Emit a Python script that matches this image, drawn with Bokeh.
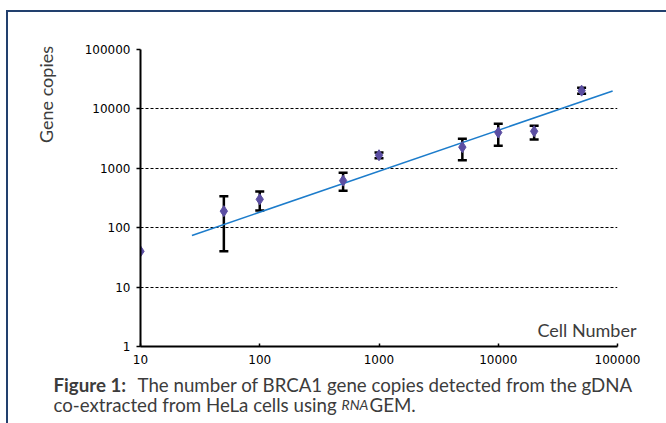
import math
from bokeh.plotting import figure
from bokeh.layouts import column
from bokeh.models import (ColumnDataSource, Whisker, TeeHead, FixedTicker,
                          PrintfTickFormatter, Label)
from bokeh.embed import file_html
from bokeh.resources import INLINE

# ---- data ----
cells = [10, 50, 100, 500, 1000, 5000, 10000, 20000, 50000]
copies = [40, 190, 300, 620, 1660, 2270, 4000, 4200, 20300]
upper = [None, 340, 405, 840, 1850, 3150, 5600, 5200, 22700]
lower = [None, 40, 195, 420, 1480, 1370, 2400, 3050, 18000]
trend_x = [27, 91000]
trend_y = [74, 20000]
x_ticks = [10, 100, 1000, 10000, 100000]
y_ticks = [1, 10, 100, 1000, 10000, 100000]

W = 658
H_MAIN = 360
H_CAP = 51
txt = "#3c3c3c"

p = figure(width=W, height=H_MAIN, x_axis_type="log", y_axis_type="log",
           x_range=(10, 100000), y_range=(1, 100000),
           output_backend="svg", toolbar_location=None,
           min_border_left=132, min_border_right=49,
           min_border_top=37, min_border_bottom=26)
p.outline_line_color = None
p.background_fill_color = "white"
p.border_fill_color = "white"

p.xgrid.visible = False
p.ygrid.grid_line_color = "black"
p.ygrid.grid_line_dash = "3 2"
p.ygrid.grid_line_width = 1
p.ygrid.ticker = FixedTicker(ticks=y_ticks[1:])

for ax in (p.xaxis[0], p.yaxis[0]):
    ax.axis_line_color = "black"
    ax.axis_line_width = 2
    ax.major_tick_line_color = "black"
    ax.major_tick_line_width = 1.5
    ax.minor_tick_line_color = None
    ax.major_label_text_font = "DejaVu Sans"
    ax.major_label_text_font_size = "12px"
    ax.major_label_text_color = "black"
    ax.formatter = PrintfTickFormatter(format="%d")
p.xaxis[0].ticker = FixedTicker(ticks=x_ticks)
p.yaxis[0].ticker = FixedTicker(ticks=y_ticks)
p.xaxis[0].major_tick_in = 3
p.xaxis[0].major_tick_out = 0
p.xaxis[0].major_label_standoff = 8
p.yaxis[0].major_tick_in = 0
p.yaxis[0].major_tick_out = 4
p.yaxis[0].major_label_standoff = 6

idx = [i for i in range(len(cells)) if upper[i] is not None]
err_src = ColumnDataSource(dict(x=[cells[i] for i in idx],
                                up=[upper[i] for i in idx],
                                lo=[lower[i] for i in idx]))
wh = Whisker(source=err_src, base="x", upper="up", lower="lo",
             line_color="black", line_width=2.5,
             upper_head=TeeHead(size=9, line_color="black", line_width=2.5),
             lower_head=TeeHead(size=9, line_color="black", line_width=2.5))
p.add_layout(wh)

p.line(trend_x, trend_y, line_color="#1C7CCB", line_width=1.6)
p.scatter(cells, copies, marker="diamond", size=11,
          fill_color="#5B4EA2", line_color="#5B4EA2")


def lab(x, y, text, size="18.7px", style="normal", align="left", **kw):
    return Label(x=x, y=y, x_units="canvas", y_units="canvas", text=text,
                 text_color=txt, text_font="Lato", text_font_size=size,
                 text_font_style=style, text_align=align,
                 text_baseline="alphabetic", **kw)


p.add_layout(lab(628, 317, "Cell Number", size="18px", align="right"), "above")
p.add_layout(Label(x=37, y=82, x_units="canvas", y_units="canvas",
                   text="Gene copies", text_color=txt, text_font="Lato",
                   text_font_size="18px", text_align="center",
                   text_baseline="middle", angle=math.pi / 2), "left")

# caption figure below the chart
c = figure(width=W, height=H_CAP, x_range=(0, 1), y_range=(0, 1),
           output_backend="svg", toolbar_location=None,
           x_axis_location=None, y_axis_location=None,
           min_border_left=0, min_border_right=0,
           min_border_top=0, min_border_bottom=0)
c.outline_line_color = None
c.grid.visible = False
c.background_fill_color = "white"
c.border_fill_color = "white"

c.add_layout(lab(45, 12, "Figure 1:", style="bold"), "left")
c.add_layout(lab(129, 12, "The number of BRCA1 gene copies detected from the gDNA"),
             "above")
c.add_layout(lab(45, 32, "co-extracted from HeLa cells using"), "above")
c.add_layout(lab(333, 32, "RNA", size="14px", style="italic"), "right")
c.add_layout(lab(361, 32, "GEM."), "left")

root = column(p, c, spacing=0,
              styles={"margin-left": "6px", "margin-top": "10px",
                      "border-top": "2px solid #22406E",
                      "border-left": "2px solid #22406E"})
open("out.html", "w").write(file_html(root, INLINE))
